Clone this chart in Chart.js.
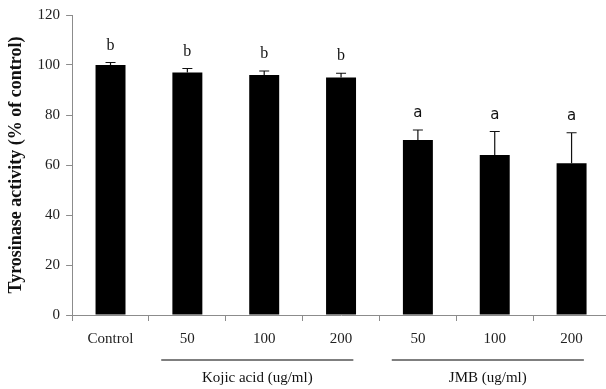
<!DOCTYPE html>
<html>
<head>
<meta charset="utf-8">
<script src="https://cdn.jsdelivr.net/npm/chart.js@4"></script>
<style>
  html, body { margin: 0; padding: 0; background: #fff; overflow: hidden; }
  #wrap { width: 612px; height: 389px; }
</style>
</head>
<body>
<div id="wrap"><canvas id="grafico"></canvas></div>
<script>
// dados
const categorias = ['Control', '50', '100', '200', '50', '100', '200'];
const atividade = [100, 97, 96, 95, 70, 64, 60.7];
const erroSuperior = [101, 98.6, 97.6, 96.7, 74, 73.4, 72.9];
const letras = ['b', 'b', 'b', 'b', 'a', 'a', 'a'];
const grupos = [
  { nome: 'Kojic acid (ug/ml)', de: 1, ate: 3 },
  { nome: 'JMB (ug/ml)', de: 4, ate: 6 }
];
const yTicks = [0, 20, 40, 60, 80, 100, 120];

const serif = '"Liberation Serif", "Times New Roman", serif';
const corEixo = '#8c8c8c';

// barras de erro, letras e linhas de grupo
const extras = {
  id: 'extras',
  afterDatasetsDraw(chart) {
    const { ctx, scales: { x, y } } = chart;
    const passo = x.getPixelForValue(1) - x.getPixelForValue(0);
    ctx.save();
    ctx.strokeStyle = '#111';
    ctx.lineWidth = 1.2;
    erroSuperior.forEach((v, i) => {
      const cx = x.getPixelForValue(i);
      const yTopo = y.getPixelForValue(v);
      const yBarra = y.getPixelForValue(atividade[i]);
      ctx.beginPath();
      ctx.moveTo(cx, yBarra);
      ctx.lineTo(cx, yTopo);
      ctx.moveTo(cx - 5, yTopo);
      ctx.lineTo(cx + 5, yTopo);
      ctx.stroke();
    });

    ctx.fillStyle = '#111';
    ctx.textAlign = 'center';
    ctx.textBaseline = 'bottom';
    letras.forEach((l, i) => {
      ctx.font = (l === 'b' ? '16px ' + serif : '15px "DejaVu Sans", sans-serif');
      ctx.fillText(l, x.getPixelForValue(i), y.getPixelForValue(erroSuperior[i]) - 9);
    });

    ctx.strokeStyle = '#555';
    ctx.lineWidth = 1.5;
    ctx.font = '15px ' + serif;
    ctx.textBaseline = 'middle';
    const yLinha = y.bottom + 45;
    grupos.forEach(g => {
      const x1 = x.getPixelForValue(g.de) - 0.34 * passo;
      const x2 = x.getPixelForValue(g.ate) + 0.16 * passo;
      ctx.beginPath();
      ctx.moveTo(x1, yLinha);
      ctx.lineTo(x2, yLinha);
      ctx.stroke();
      ctx.fillText(g.nome, (x1 + x2) / 2, yLinha + 18);
    });
    ctx.restore();
  }
};

new Chart(document.getElementById('grafico'), {
  type: 'bar',
  data: {
    labels: categorias,
    datasets: [{
      data: atividade,
      backgroundColor: '#000',
      borderWidth: 0,
      barPercentage: 0.39,
      categoryPercentage: 1
    }]
  },
  options: {
    responsive: true,
    maintainAspectRatio: false,
    animation: false,
    layout: { padding: { top: 8, right: 2, bottom: 32, left: 6 } },
    plugins: {
      legend: { display: false },
      tooltip: { enabled: false }
    },
    scales: {
      x: {
        grid: { drawOnChartArea: false, offset: true, tickLength: 6, color: corEixo },
        border: { color: corEixo },
        ticks: { color: '#222', font: { family: serif, size: 15 }, padding: 9 }
      },
      y: {
        min: 0,
        max: 120,
        afterBuildTicks: axis => { axis.ticks = yTicks.map(v => ({ value: v })); },
        grid: { drawOnChartArea: false, tickLength: 6, color: corEixo },
        border: { color: corEixo },
        ticks: { color: '#222', font: { family: serif, size: 15 }, padding: 6 },
        title: {
          display: true,
          text: 'Tyrosinase activity (% of control)',
          color: '#111',
          font: { family: serif, size: 18, weight: 'bold' },
          padding: { top: 0, bottom: 4 }
        }
      }
    }
  },
  plugins: [extras]
});
</script>
</body>
</html>
